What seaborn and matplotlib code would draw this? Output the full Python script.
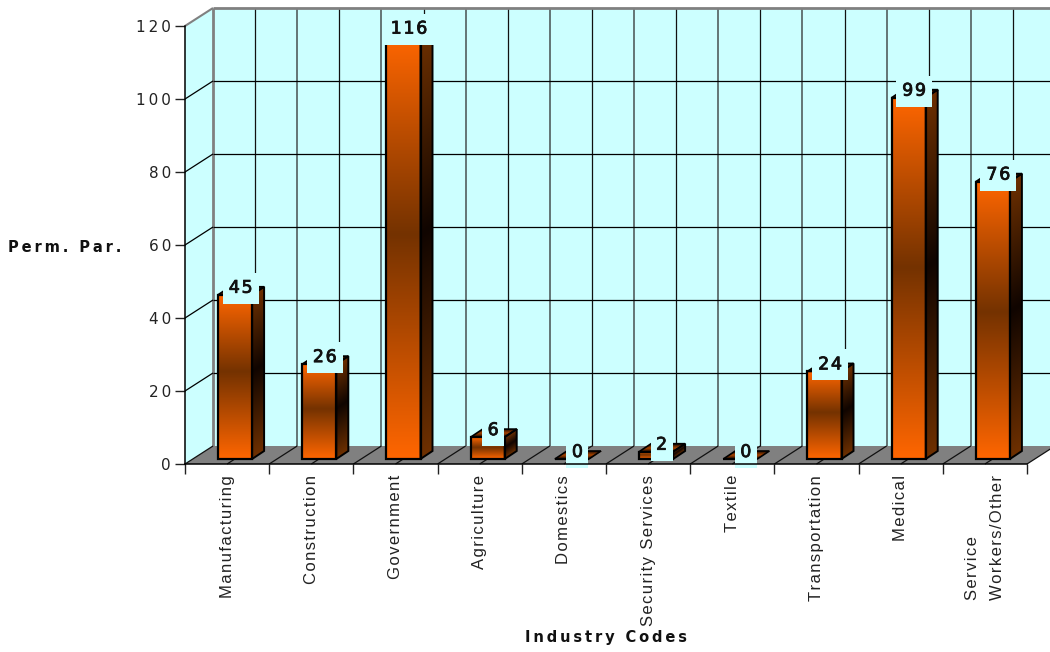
import numpy as np
import seaborn as sns
import matplotlib
matplotlib.use("Agg")
import matplotlib.pyplot as plt
import matplotlib.patheffects as pe
from matplotlib.colors import LinearSegmentedColormap
from matplotlib.patches import Polygon, Rectangle
from matplotlib.transforms import Affine2D, IdentityTransform, offset_copy

industries = ["Manufacturing", "Construction", "Government", "Agriculture", "Domestics",
              "Security Services", "Textile", "Transportation", "Medical", "Service\nWorkers/Other"]
perm_par = [45, 26, 116, 6, 0, 2, 0, 24, 99, 76]
y_ticks = [0, 20, 40, 60, 80, 100, 120]

WALL = "#CCFFFF"
FLOOR = "#808080"
EDGE = "#808080"
# depth of the fake 3D box and of the bars, in pixels
WALL_DX, WALL_DY = 28, 18
BAR_DX, BAR_DY = 8, 5
SIDE_DX, SIDE_DY = 12, 8

front_cmap = LinearSegmentedColormap.from_list("front", [(0, "#FF6600"), (0.47, "#743200"), (1, "#FF6600")])
side_cmap = LinearSegmentedColormap.from_list("side", [(0, "#6E3000"), (0.47, "#100500"), (1, "#6E3000")])
top_cmap = LinearSegmentedColormap.from_list("top", ["#1A0A00", "#A84400", "#1A0A00"])
gradient = np.linspace(0, 1, 256).reshape(-1, 1)


def track(text, gap="\u2009"):
    """The original font is wide and letter spaced, thin spaces get close to it."""
    return "\n".join(gap.join(line) for line in text.split("\n"))


def face(ax, bl, br, tl, cmap, zorder):
    """Draw a gradient on the parallelogram given by three corners in pixels."""
    m = [[br[0] - bl[0], tl[0] - bl[0], bl[0]],
         [br[1] - bl[1], tl[1] - bl[1], bl[1]],
         [0, 0, 1]]
    im = ax.imshow(gradient, extent=(0, 1, 0, 1), aspect="auto", cmap=cmap,
                   transform=Affine2D(np.array(m, dtype=float)), zorder=zorder,
                   interpolation="bilinear")
    im.set_clip_on(False)


def pixel_poly(ax, pts, **kw):
    ax.add_patch(Polygon(pts, closed=True, transform=IdentityTransform(), clip_on=False, **kw))


def pixel_line(ax, p0, p1, **kw):
    ax.plot([p0[0], p1[0]], [p0[1], p1[1]], transform=IdentityTransform(),
            clip_on=False, solid_capstyle="butt", **kw)


sns.set_style("white")
plt.rcParams["font.family"] = "DejaVu Sans"

fig = plt.figure(figsize=(10.5, 6.52), dpi=100)
ax = fig.add_axes([185 / 1050, 1 - 464 / 652, 842 / 1050, 438 / 652])
ax.patch.set_visible(False)

sns.barplot(x=list(range(len(perm_par))), y=perm_par, width=0.404, color="#FF6600", saturation=1,
            edgecolor="black", linewidth=1.6, ax=ax, zorder=4)
xlim = (-0.5, len(perm_par) - 0.5)
ylim = (0, 120)
ax.set_xlim(*xlim)
ax.set_ylim(*ylim)
to_px = ax.transData.transform

# walls and floor
x0, y0 = to_px((xlim[0], 0))
x1, y1 = to_px((xlim[1], 120))
d = np.array([WALL_DX, WALL_DY])
pixel_poly(ax, [(x0, y0), (x0, y1), (x0 + d[0], y1 + d[1]), (x0 + d[0], y0 + d[1])],
           fc=WALL, ec="none", zorder=0)
pixel_poly(ax, [(x0 + d[0], y0 + d[1]), (x0 + d[0], y1 + d[1]), (1060, y1 + d[1]), (1060, y0 + d[1])],
           fc=WALL, ec="none", zorder=0)
pixel_poly(ax, [(x0, y0), (x1, y0), (x1 + d[0], y0 + d[1]), (x0 + d[0], y0 + d[1])],
           fc=FLOOR, ec="none", zorder=1)

# grid on the walls
for tick in y_ticks[1:-1]:
    p = to_px((xlim[0], tick))
    pixel_line(ax, p, p + d, color="black", lw=0.9, zorder=2)
    pixel_line(ax, p + d, (1060, p[1] + d[1]), color="black", lw=0.9, zorder=2)
# the back wall and floor have lines every half category
for k in np.arange(xlim[0], xlim[1] + 0.25, 0.5):
    p = to_px((k, 0))
    on_tick = float(k - xlim[0]).is_integer()
    pixel_line(ax, p, p + d, color="#111111", lw=0.9, zorder=2)
    if k > xlim[0]:
        pixel_line(ax, p + d, (p[0] + d[0], y1 + d[1]), color="#5A6A6A" if on_tick else "#111111",
                   lw=1.3 if on_tick else 0.9, zorder=1.5)
pixel_line(ax, (x0 + d[0], y0 + d[1]), (x0 + d[0], y1 + d[1]), color=EDGE, lw=2, zorder=1.5)
pixel_line(ax, (x0 + d[0], y1 + d[1]), (1060, y1 + d[1]), color=EDGE, lw=2, zorder=1.5)
pixel_line(ax, (x0, y1), (x0 + d[0], y1 + d[1]), color=EDGE, lw=1.5, zorder=1.5)

# bars: seaborn gives the front, the depth and the gradient go on top of it
bar_shift = offset_copy(ax.transData, fig=fig, x=BAR_DX, y=BAR_DY, units="dots")
for patch, value in zip(ax.patches, perm_par):
    patch.set_transform(bar_shift)
    patch.set_clip_on(False)
    patch.set_facecolor("none")
    bl = to_px((patch.get_x(), 0)) + (BAR_DX, BAR_DY)
    br = to_px((patch.get_x() + patch.get_width(), 0)) + (BAR_DX, BAR_DY)
    tl = to_px((patch.get_x(), value)) + (BAR_DX, BAR_DY)
    tr = br + (tl - bl)
    s = np.array([SIDE_DX, SIDE_DY])
    if value > 0:
        face(ax, bl, br, tl, front_cmap, 3)
        face(ax, br, br + s, tr, side_cmap, 3)
        pixel_poly(ax, [br, br + s, tr + s, tr], fc="none", ec="black", lw=1.4, zorder=4)
    face(ax, tl, tr, tl + s, top_cmap, 3)
    pixel_poly(ax, [tl, tr, tr + s, tl + s], fc="none", ec="black", lw=1.2, zorder=4)

    # value label sits on a wall coloured box
    label = str(value)
    cx = (bl[0] + br[0]) / 2 + 5.5
    w = 8 + 14 * len(label)
    ax.add_patch(Rectangle((cx - w / 2, tl[1] - 9), w, 31, transform=IdentityTransform(),
                           fc=WALL, ec="none", clip_on=False, zorder=5))
    ax.text(cx, tl[1] + 7, track(label, "\u200a"), transform=IdentityTransform(), ha="center", va="center",
            fontsize=12.5, color="#111111", zorder=6, clip_on=False,
            path_effects=[pe.withStroke(linewidth=0.6, foreground="#111111")])

# axes
sns.despine(ax=ax)
for side in ["left", "bottom"]:
    ax.spines[side].set_color("black")
    ax.spines[side].set_linewidth(1.1)
    ax.spines[side].set_zorder(7)
ax.set_yticks(y_ticks)
ax.set_yticklabels([track(str(t)) for t in y_ticks], fontsize=11, color="#222222")
ax.tick_params(axis="y", length=7, width=1, left=True, pad=3, color="#222222")
ax.set_xticks(np.arange(xlim[0], xlim[1] + 1))
ax.set_xticklabels([])
ax.tick_params(axis="x", which="major", length=7, width=1, bottom=True, color="#222222")
ax.set_xticks(np.arange(len(industries)), minor=True)
ax.set_xticklabels([track(c, "\u200a") for c in industries], minor=True, rotation=90, fontsize=12,
                   family="Liberation Sans", color="#222222", ma="left", linespacing=1.9)
ax.tick_params(axis="x", which="minor", length=0, bottom=False, pad=8)

ax.set_xlabel(track("Industry Codes"), fontsize=10.5, fontweight="bold", color="#111111")
ax.xaxis.set_label_coords(0.5, -0.397, transform=ax.transAxes)
ax.xaxis.label.set_va("center")
ax.set_ylabel(track("Perm. Par."), fontsize=10.5, fontweight="bold", rotation=0, color="#111111")
ax.yaxis.set_label_coords(-0.1425, 0.495, transform=ax.transAxes)
ax.yaxis.label.set_ha("center")
ax.yaxis.label.set_va("center")

ax.set_xlim(*xlim)
ax.set_ylim(*ylim)
fig.savefig("out.png", dpi=100)
plt.close(fig)
